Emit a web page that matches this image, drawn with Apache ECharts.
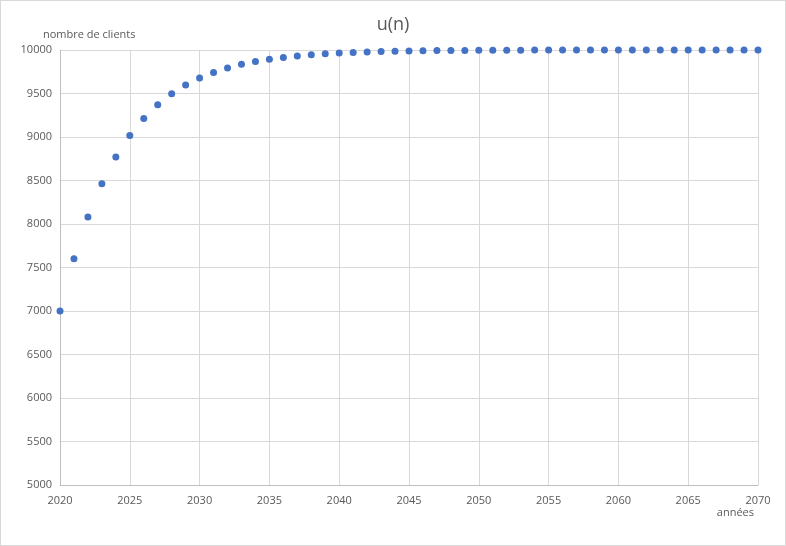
<!DOCTYPE html>
<html><head><meta charset="utf-8">
<script src="https://cdn.jsdelivr.net/npm/echarts@6/dist/echarts.min.js"></script>
<style>html,body{margin:0;padding:0;background:#fff}#c{width:786px;height:546px;box-sizing:border-box;border:1px solid #d9d9d9}</style>
</head><body><div id="c"></div>
<script>
const years = [2020,2021,2022,2023,2024,2025,2026,2027,2028,2029,2030,2031,2032,2033,2034,2035,2036,2037,2038,2039,2040,2041,2042,2043,2044,2045,2046,2047,2048,2049,2050,2051,2052,2053,2054,2055,2056,2057,2058,2059,2060,2061,2062,2063,2064,2065,2066,2067,2068,2069,2070];
const clients = [7000,7600,8080,8464,8771,9017,9213,9371,9497,9597,9678,9742,9794,9835,9868,9894,9915,9932,9946,9957,9965,9972,9978,9982,9986,9989,9991,9993,9994,9995,9996,9997,9998,9998,9999,9999,9999,9999,10000,10000,10000,10000,10000,10000,10000,10000,10000,10000,10000,10000,10000];
const xTicks = {min:2020, max:2070, interval:5};
const yTicks = {min:5000, max:10000, interval:500};
const txt = '#595959', font = 'Open Sans';
const chart = echarts.init(document.getElementById('c'), null, {renderer:'canvas'});
chart.setOption({
  animation:false,
  title:{text:'u(n)', left:'center', top:10, textStyle:{color:txt, fontSize:18, fontWeight:'normal', fontFamily:font}},
  grid:{left:59, right:27, top:49, bottom:60},
  xAxis:{type:'value', min:xTicks.min, max:xTicks.max, interval:xTicks.interval,
    name:'années', nameLocation:'end', nameGap:0,
    nameTextStyle:{color:txt, fontSize:11, fontFamily:font, align:'right', verticalAlign:'top', padding:[22,4,0,0]},
    axisLine:{lineStyle:{color:'#bfbfbf'}}, axisTick:{show:false},
    axisLabel:{color:txt, fontSize:11, fontFamily:font, margin:10, formatter:v=>String(v)},
    splitLine:{show:true, lineStyle:{color:'#d9d9d9'}}},
  yAxis:{type:'value', min:yTicks.min, max:yTicks.max, interval:yTicks.interval,
    name:'nombre de clients', nameLocation:'end', nameGap:10,
    nameTextStyle:{color:txt, fontSize:11, fontFamily:font, align:'left', padding:[0,0,0,-17]},
    axisLine:{show:true, lineStyle:{color:'#bfbfbf'}}, axisTick:{show:false},
    axisLabel:{color:txt, fontSize:11, fontFamily:font, margin:8, formatter:v=>String(v)},
    splitLine:{show:true, lineStyle:{color:'#d9d9d9'}}},
  series:[{type:'scatter', data:years.map((y,i)=>[y, clients[i]]), symbolSize:7,
    itemStyle:{color:'#4472C4', opacity:1}}]
});
</script></body></html>
